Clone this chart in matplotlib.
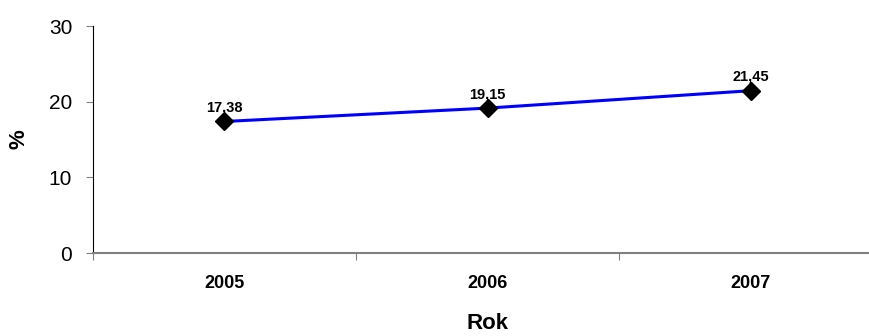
import matplotlib.pyplot as plt
import numpy as np

plt.rcParams['font.family'] = ['Liberation Sans', 'DejaVu Sans']

# data
years = ['2005', '2006', '2007']
values = [17.38, 19.15, 21.45]

fig = plt.figure(figsize=(8.69, 3.36), dpi=100)
ax = fig.add_axes([0.107, 0.247, 0.908, 0.6756])

x = np.arange(len(years))
ax.plot(x, values, color='#0000FF', lw=2.2, marker='D', ms=9,
        mfc='black', mec='black', zorder=3)

# value labels with decimal comma
for xi, v in zip(x, values):
    ax.annotate(f'{v:.2f}'.replace('.', ','), (xi, v), xytext=(0, 5),
                textcoords='offset points', ha='center', va='bottom',
                fontsize=10.5, fontweight='bold')

ax.set_xlim(-0.5, len(years) - 0.5)
ax.set_ylim(0, 30)
ax.set_yticks([0, 10, 20, 30])

# category ticks sit between the years
ax.set_xticks(np.arange(-0.5, len(years), 1.0))
ax.set_xticklabels([])
ax.set_xticks(x, minor=True)
ax.set_xticklabels(years, minor=True, fontsize=13, fontweight='bold')
ax.tick_params(axis='x', which='major', length=5, direction='out', color='#808080')
ax.tick_params(axis='x', which='minor', length=0, pad=16)
ax.tick_params(axis='y', length=5, direction='out', labelsize=15, pad=10,
               color='#808080')

ax.spines['top'].set_visible(False)
ax.spines['right'].set_visible(False)
ax.spines['left'].set_color('black')
ax.spines['bottom'].set_color('#808080')
ax.spines['bottom'].set_linewidth(1.5)

ax.set_xlabel('Rok', fontsize=16, fontweight='bold', labelpad=15)
ax.set_ylabel('%', fontsize=16, fontweight='bold', labelpad=14)

fig.savefig('out.png', dpi=100)
